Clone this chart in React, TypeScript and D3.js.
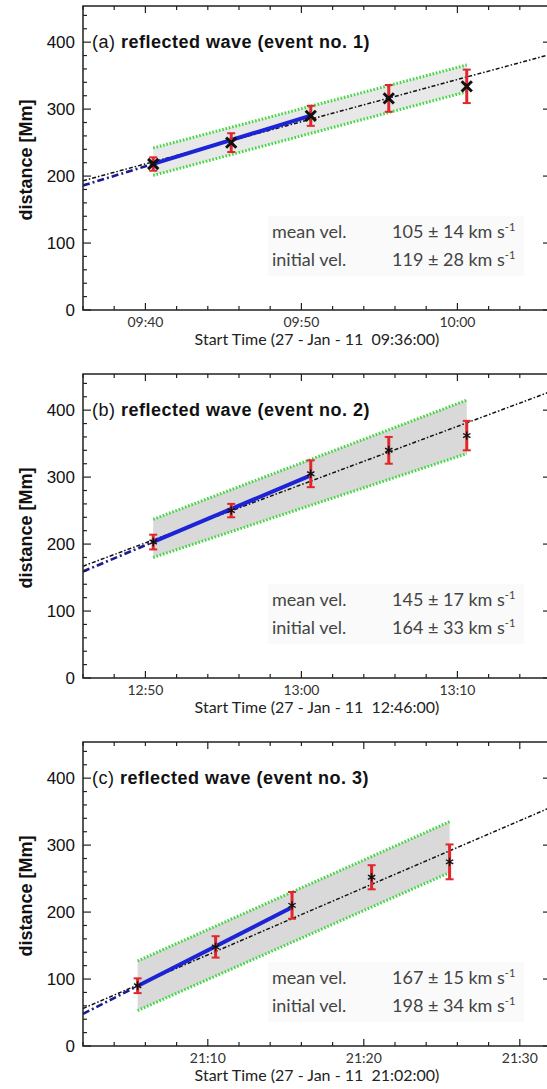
import React, { useRef, useEffect } from 'react'
import * as d3 from 'd3'

// panel texts
const tags = ['(a)', '(b)', '(c)']
const titles = [
	'reflected wave (event no. 1)',
	'reflected wave (event no. 2)',
	'reflected wave (event no. 3)',
]
const startTimes = ['2011-01-27T09:36:00', '2011-01-27T12:46:00', '2011-01-27T21:02:00']
const startLabels = [
	'Start Time (27 - Jan - 11  09:36:00)',
	'Start Time (27 - Jan - 11  12:46:00)',
	'Start Time (27 - Jan - 11  21:02:00)',
]
const meanVel = ['105 ± 14', '145 ± 17', '167 ± 15']
const initialVel = ['119 ± 28', '164 ± 33', '198 ± 34']

// measurements: minutes after start time, distance [Mm], error [Mm]
const minutesA = [4.5, 9.5, 14.6, 19.6, 24.6]
const distA = [218, 250, 290, 316, 334]
const errA = [10, 14, 15, 20, 25]

const minutesB = [4.5, 9.5, 14.6, 19.6, 24.6]
const distB = [203, 250, 305, 340, 362]
const errB = [11, 10, 20, 20, 22]

const minutesC = [3.5, 8.5, 13.4, 18.5, 23.5]
const distC = [90, 148, 210, 252, 275]
const errC = [11, 16, 20, 18, 26]

// fits: [distance at start, Mm per minute]
const meanFit = [[193, 6.3], [167, 8.7], [56, 10.02]]
const initialFit = [[186, 7.14], [159, 9.84], [48, 11.88]]

// confidence band at first and last measurement
const bandUpper = [[242, 366], [237, 415], [127, 335]]
const bandLower = [[201, 326], [180, 335], [53, 259]]

const yTicks = [0, 100, 200, 300, 400]

const App = () => {
	const svgRef = useRef(null)

	useEffect(() => {
		const svg = d3.select(svgRef.current)
		svg.selectAll('*').remove()

		const left = 83,
			right = 551,
			top = 6,
			bottom = 310,
			step = 368

		const series = [
			[minutesA, distA, errA],
			[minutesB, distB, errB],
			[minutesC, distC, errC],
		]

		const y = d3.scaleLinear().domain([0, 454]).range([bottom, top])

		series.forEach(([mins, dist, err], i) => {
			const t0 = new Date(startTimes[i])
			const tm = (m) => new Date(t0.getTime() + m * 60000)
			const x = d3.scaleTime().domain([t0, tm(30)]).range([left, right])

			const g = svg.append('g').attr('transform', `translate(0,${i * step})`)

			g.append('clipPath')
				.attr('id', 'clip' + i)
				.append('rect')
				.attr('x', left)
				.attr('y', top)
				.attr('width', right - left)
				.attr('height', bottom - top)

			// velocity box (very faint, behind everything)
			const by = i === 2 ? 10 : 0
			g.append('rect')
				.attr('x', 268)
				.attr('y', 216 + by)
				.attr('width', 256)
				.attr('height', 60)
				.attr('fill', '#fafafa')

			const plot = g.append('g').attr('clip-path', `url(#clip${i})`)
			const line = d3
				.line()
				.x((d) => x(tm(d[0])))
				.y((d) => y(d[1]))

			const m0 = mins[0],
				m1 = mins[mins.length - 1]

			// gray band
			plot.append('path')
				.attr(
					'd',
					line([
						[m0, bandUpper[i][0]],
						[m1, bandUpper[i][1]],
						[m1, bandLower[i][1]],
						[m0, bandLower[i][0]],
					]) + 'Z'
				)
				.attr('fill', i === 0 ? '#e8e8e8' : '#d9d9d9')

			// green dotted bounds
			;[bandUpper[i], bandLower[i]].forEach((b) => {
				plot.append('path')
					.attr('d', line([[m0, b[0]], [m1, b[1]]]))
					.attr('fill', 'none')
					.attr('stroke', '#3fd83f')
					.attr('stroke-width', 3)
					.attr('stroke-dasharray', '1.6,1.8')
			})

			// mean velocity fit
			const [a0, s0] = meanFit[i]
			plot.append('path')
				.attr('d', line([[0, a0], [30, a0 + 30 * s0]]))
				.attr('fill', 'none')
				.attr('stroke', '#111')
				.attr('stroke-width', 1.5)
				.attr('stroke-dasharray', '4,2,1.5,2')

			// initial velocity fit
			const [a1, s1] = initialFit[i]
			plot.append('path')
				.attr('d', line([[0, a1], [m0, a1 + m0 * s1]]))
				.attr('fill', 'none')
				.attr('stroke', '#1c1c8c')
				.attr('stroke-width', 2.6)
				.attr('stroke-dasharray', '7,3,2,3')
			plot.append('path')
				.attr('d', line([[m0, a1 + m0 * s1], [mins[2], a1 + mins[2] * s1]]))
				.attr('fill', 'none')
				.attr('stroke', '#1d24d6')
				.attr('stroke-width', 4)

			// error bars
			const pts = mins.map((m, k) => ({ x: x(tm(m)), d: dist[k], e: err[k] }))
			const eb = plot.append('g').attr('stroke', '#e0282c').attr('stroke-width', 3)
			pts.forEach((p) => {
				eb.append('line')
					.attr('x1', p.x)
					.attr('x2', p.x)
					.attr('y1', y(p.d - p.e))
					.attr('y2', y(p.d + p.e))
				;[p.d - p.e, p.d + p.e].forEach((v) => {
					eb.append('line')
						.attr('x1', p.x - 4)
						.attr('x2', p.x + 4)
						.attr('y1', y(v))
						.attr('y2', y(v))
						.attr('stroke-width', 2)
				})
			})

			// markers
			const sym = d3.symbol(i === 0 ? d3.symbolX : d3.symbolAsterisk, i === 0 ? 70 : 50)
			plot.selectAll('.mk')
				.data(pts)
				.join('path')
				.attr('transform', (p) => `translate(${p.x},${y(p.d)})`)
				.attr('d', sym)
				.attr('fill', 'none')
				.attr('stroke', '#111')
				.attr('stroke-width', i === 0 ? 3 : 1.4)

			// frame
			g.append('rect')
				.attr('x', left)
				.attr('y', top)
				.attr('width', right - left)
				.attr('height', bottom - top)
				.attr('fill', 'none')
				.attr('stroke', '#222')
				.attr('stroke-width', 1.5)

			const ax = g.append('g').attr('stroke', '#222').attr('stroke-width', 1.2)
			const major = x.ticks(d3.timeMinute.every(10))
			const minor = x.ticks(d3.timeMinute.every(2))
			minor.forEach((t) => {
				const len = major.some((m) => +m === +t) ? 7 : 4
				ax.append('line').attr('x1', x(t)).attr('x2', x(t)).attr('y1', bottom).attr('y2', bottom - len)
				ax.append('line').attr('x1', x(t)).attr('x2', x(t)).attr('y1', top).attr('y2', top + len)
			})
			d3.range(0, 455, 20).forEach((v) => {
				const len = v % 100 === 0 ? 8 : 4
				ax.append('line').attr('x1', left).attr('x2', left + len).attr('y1', y(v)).attr('y2', y(v))
				ax.append('line').attr('x1', right).attr('x2', right - len).attr('y1', y(v)).attr('y2', y(v))
			})

			// tick labels
			g.selectAll('.xl')
				.data(major)
				.join('text')
				.attr('x', (t) => x(t))
				.attr('y', bottom + 17)
				.attr('text-anchor', 'middle')
				.style('font-family', 'Lato, sans-serif')
				.style('font-size', '14px')
				.style('fill', '#333')
				.text(d3.timeFormat('%H:%M'))

			g.selectAll('.yl')
				.data(yTicks)
				.join('text')
				.attr('x', left - 8)
				.attr('y', (v) => y(v) + 6)
				.attr('text-anchor', 'end')
				.style('font-family', '"Liberation Sans", Arial, sans-serif')
				.style('font-size', '17px')
				.style('fill', '#111')
				.text((v) => v)

			g.append('text')
				.attr('x', (left + right) / 2)
				.attr('y', bottom + 35)
				.attr('text-anchor', 'middle')
				.style('font-family', 'Lato, sans-serif')
				.style('font-size', '16px')
				.style('fill', '#222')
				.style('white-space', 'pre')
				.text(startLabels[i])

			g.append('text')
				.attr('transform', `translate(32,160) rotate(-90)`)
				.attr('text-anchor', 'middle')
				.style('font-family', '"Liberation Sans", Arial, sans-serif')
				.style('font-size', '18px')
				.style('font-weight', 'bold')
				.style('fill', '#111')
				.text('distance [Mm]')

			// title
			const title = g
				.append('text')
				.attr('x', 92)
				.attr('y', y(400) + 6)
				.style('font-family', '"Liberation Sans", Arial, sans-serif')
				.style('font-size', '18px')
				.style('letter-spacing', '0.5px')
				.style('fill', '#111')
				.style('white-space', 'pre')
			title.append('tspan').text(tags[i] + ' ')
			title.append('tspan').style('font-weight', 'bold').text(titles[i])

			const rows = [
				['mean vel.', meanVel[i]],
				['initial vel.', initialVel[i]],
			]
			rows.forEach((r, k) => {
				const ty = 238 + by + k * 28
				const tx = g
					.append('g')
					.style('font-family', 'Lato, sans-serif')
					.style('font-size', '18px')
					.style('fill', '#444')
				tx.append('text').attr('x', 272).attr('y', ty).text(r[0])
				const v = tx.append('text').attr('x', 392).attr('y', ty)
				v.append('tspan').text(r[1] + ' km s')
				v.append('tspan').attr('dy', -7).style('font-size', '11px').text('-1')
			})
		})
	}, [])

	return (
		<svg
			ref={svgRef}
			width={547}
			height={1089}
			style={{ position: 'absolute', left: 0, top: 0, background: '#fff' }}
		></svg>
	)
}

export default App
